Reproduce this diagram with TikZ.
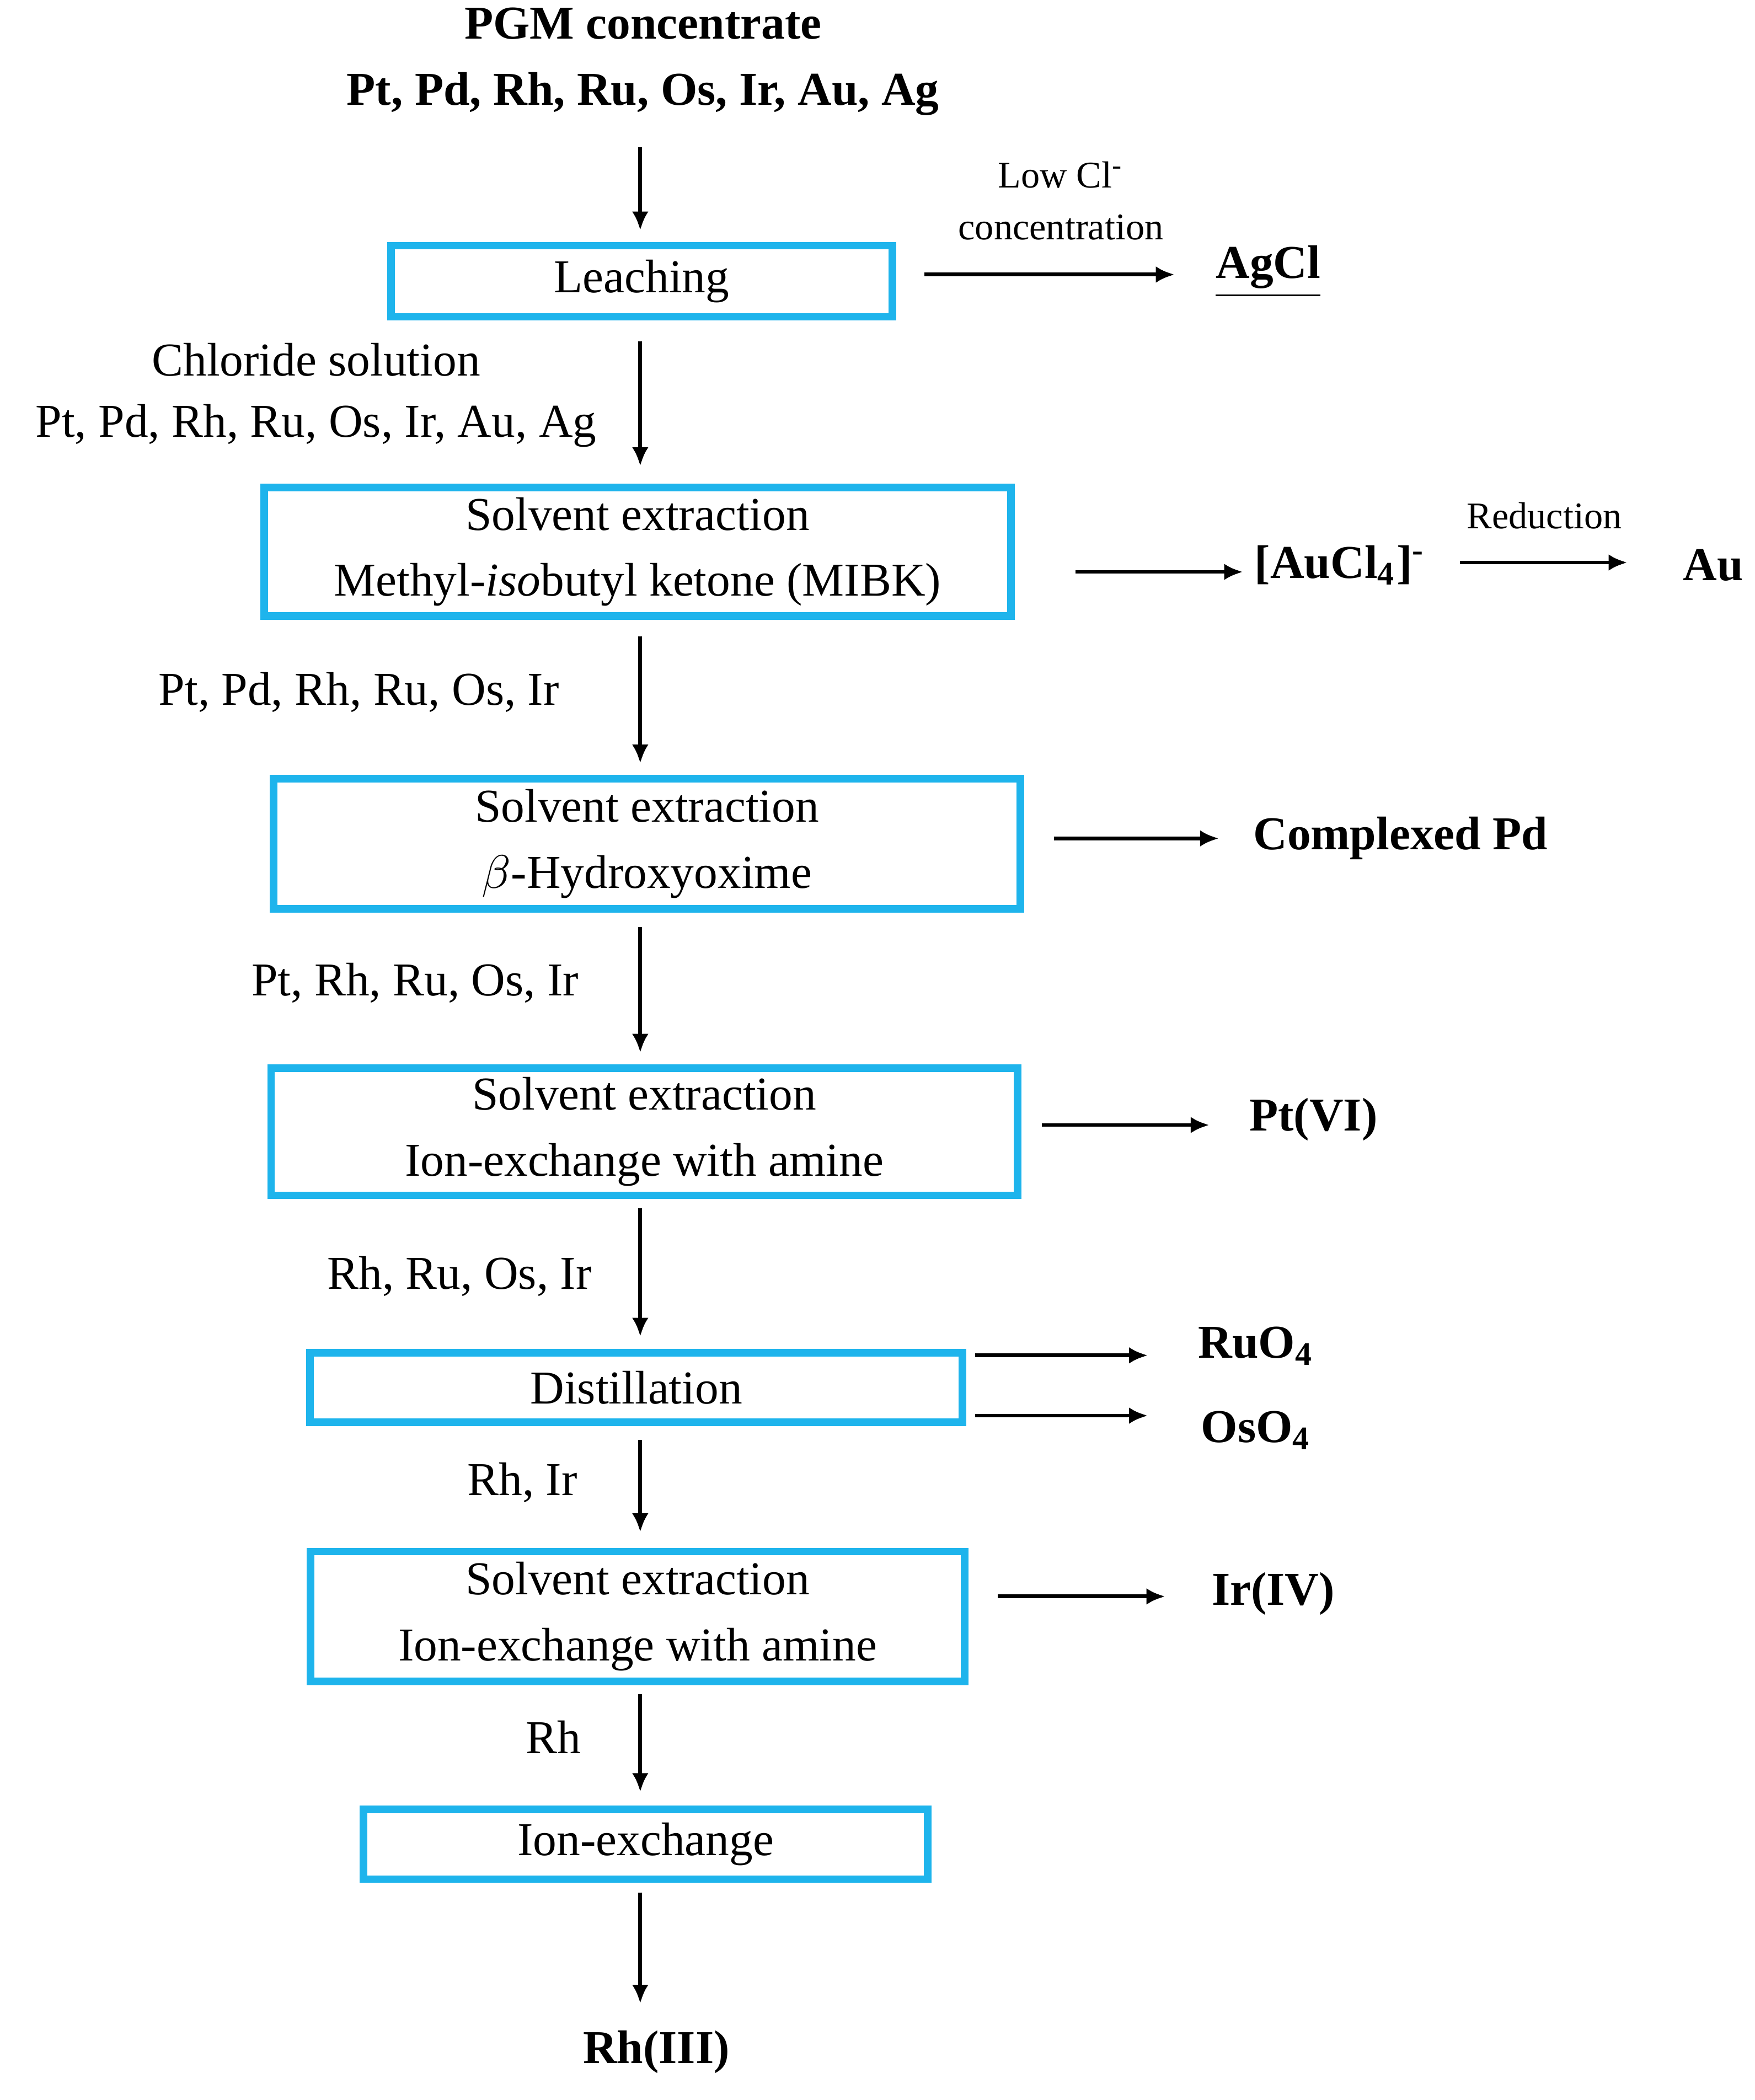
\documentclass[tikz,border=0pt]{standalone}
\usepackage{fontspec}
\setmainfont{Liberation Serif}
\usetikzlibrary{arrows.meta}
\definecolor{boxcyan}{HTML}{1EB4EC}
\tikzset{
  stage/.style={draw=boxcyan, line width=1.6pt, inner sep=0, align=center, font=\fontsize{10}{14}\selectfont},
  flow/.style={-{Latex[length=4pt, width=3.5pt]}, line width=0.8pt},
  lbl/.style={inner sep=0, align=center, font=\fontsize{10}{13}\selectfont},
  prod/.style={inner sep=0, font=\fontsize{10}{13}\selectfont\bfseries},
  small/.style={inner sep=0, align=center, font=\fontsize{8}{11}\selectfont}
}
\begin{document}
\begin{tikzpicture}[x=0.01cm, y=-0.01cm]
  \useasboundingbox (0,0) rectangle (1310,1568);
  % feed
  \node[prod, align=center, font=\fontsize{10}{14}\selectfont\bfseries] (feed) at (480,46) {PGM concentrate\\Pt, Pd, Rh, Ru, Os, Ir, Au, Ag};
  % process steps
  \node[stage, minimum width=3.74cm, minimum height=0.53cm] (leach) at (479,210) {Leaching};
  \node[stage, minimum width=5.57cm, minimum height=0.96cm] (mibk) at (476,412) {Solvent extraction\\Methyl-\textit{iso}butyl ketone (MIBK)};
  \node[stage, minimum width=5.57cm, minimum height=0.97cm] (oxime) at (483,630) {Solvent extraction\\$\beta$-Hydroxyoxime};
  \node[stage, minimum width=5.57cm, minimum height=0.95cm] (amine) at (481,845) {Solvent extraction\\Ion-exchange with amine};
  \node[stage, minimum width=4.87cm, minimum height=0.52cm] (dist) at (475,1036) {Distillation};
  \node[stage, minimum width=4.88cm, minimum height=0.97cm] (amine2) at (476,1207) {Solvent extraction\\Ion-exchange with amine};
  \node[stage, minimum width=4.21cm, minimum height=0.52cm] (iex) at (482,1377) {Ion-exchange};
  \node[prod] (rh) at (490,1532) {Rh(III)};
  % main line
  \draw[flow] (478,110) -- (478,172);
  \draw[flow] (478,255) -- (478,348);
  \draw[flow] (478,475) -- (478,570);
  \draw[flow] (478,692) -- (478,786);
  \draw[flow] (478,902) -- (478,998);
  \draw[flow] (478,1075) -- (478,1144);
  \draw[flow] (478,1265) -- (478,1338);
  \draw[flow] (478,1413) -- (478,1496);
  % stream labels
  \node[lbl] at (236,295) {Chloride solution\\Pt, Pd, Rh, Ru, Os, Ir, Au, Ag};
  \node[lbl] at (268,517) {Pt, Pd, Rh, Ru, Os, Ir};
  \node[lbl] at (310,734) {Pt, Rh, Ru, Os, Ir};
  \node[lbl] at (343,953) {Rh, Ru, Os, Ir};
  \node[lbl] at (390,1107) {Rh, Ir};
  \node[lbl] at (413,1297) {Rh};
  % side products
  \node[prod, anchor=west] (agcl) at (907,203) {\underline{AgCl}};
  \draw[flow] (690,205) -- (877,205);
  \node[small] at (792,150) {Low Cl\textsuperscript{-}\\concentration};
  \node[prod, anchor=west] (aucl) at (936,422) {[AuCl\textsubscript{4}]\textsuperscript{-}};
  \draw[flow] (803,427) -- (928,427);
  \node[prod, anchor=west] (au) at (1256,422) {Au};
  \draw[flow] (1090,420) -- (1215,420);
  \node[small] at (1153,385) {Reduction};
  \node[prod, anchor=west] (pd) at (935,626) {Complexed Pd};
  \draw[flow] (787,626) -- (910,626);
  \node[prod, anchor=west] (pt) at (932,836) {Pt(VI)};
  \draw[flow] (778,840) -- (903,840);
  \node[prod, anchor=west] (ru) at (894,1005) {RuO\textsubscript{4}};
  \node[prod, anchor=west] (os) at (896,1068) {OsO\textsubscript{4}};
  \draw[flow] (728,1012) -- (857,1012);
  \draw[flow] (728,1057) -- (857,1057);
  \node[prod, anchor=west] (ir) at (904,1190) {Ir(IV)};
  \draw[flow] (745,1192) -- (870,1192);
\end{tikzpicture}
\end{document}
